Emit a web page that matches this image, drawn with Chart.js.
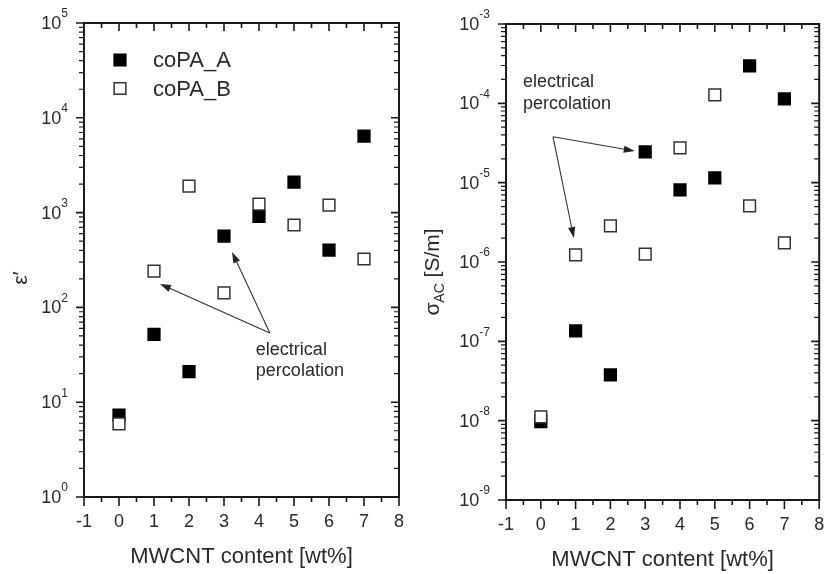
<!DOCTYPE html>
<html>
<head>
<meta charset="utf-8">
<script src="https://cdn.jsdelivr.net/npm/chart.js@4.4.0/dist/chart.umd.min.js"></script>
<style>
  body { margin: 0; background: #fff; }
  .panel { position: absolute; top: 0; height: 574px; }
  #left { left: 0; width: 415px; }
  #right { left: 415px; width: 414px; }
</style>
</head>
<body>
<div class="panel" id="left"><canvas id="permchart"></canvas></div>
<div class="panel" id="right"><canvas id="condchart"></canvas></div>
<script>
var content = [0, 1, 2, 3, 4, 5, 6, 7];
var permA = [7.3, 52, 21, 566, 915, 2100, 403, 6400];
var permB = [5.9, 242, 1900, 142, 1230, 740, 1200, 324];
var condA = [9.7e-9, 1.35e-7, 3.77e-8, 2.45e-5, 8.1e-6, 1.15e-5, 2.97e-4, 1.14e-4];
var condB = [1.12e-8, 1.23e-6, 2.85e-6, 1.26e-6, 2.75e-5, 1.28e-4, 5.1e-6, 1.74e-6];
var xTicks = [-1, 0, 1, 2, 3, 4, 5, 6, 7, 8];
var permDecades = [0, 1, 2, 3, 4, 5];
var condDecades = [-9, -8, -7, -6, -5, -4, -3];
var seriesNames = ['coPA_A', 'coPA_B'];

var ink = '#1a1a1a';
var textInk = '#2a2a2a';
var font = '"Liberation Sans", Arial, sans-serif';

function points(ys) {
    return content.map(function (x, i) { return { x: x, y: ys[i] }; });
}

function filledSet(label, ys) {
    return {
        label: label, data: points(ys), order: 2,
        pointStyle: 'rect', pointRadius: 8.3, pointBorderWidth: 1.5,
        backgroundColor: '#000', borderColor: '#000', showLine: false
    };
}

function openSet(label, ys) {
    return {
        label: label, data: points(ys), order: 1,
        pointStyle: 'rect', pointRadius: 8.3, pointBorderWidth: 1.5,
        backgroundColor: '#fff', borderColor: '#333', showLine: false
    };
}

function arrow(ctx, x1, y1, x2, y2) {
    var a = Math.atan2(y2 - y1, x2 - x1);
    var len = 11, half = 3.6;
    ctx.beginPath();
    ctx.moveTo(x1, y1);
    ctx.lineTo(x2 - Math.cos(a) * len * 0.8, y2 - Math.sin(a) * len * 0.8);
    ctx.stroke();
    ctx.beginPath();
    ctx.moveTo(x2, y2);
    ctx.lineTo(x2 - Math.cos(a) * len - Math.sin(a) * half, y2 - Math.sin(a) * len + Math.cos(a) * half);
    ctx.lineTo(x2 - Math.cos(a) * len + Math.sin(a) * half, y2 - Math.sin(a) * len - Math.cos(a) * half);
    ctx.closePath();
    ctx.fill();
}

// frame, Origin-style ticks, power-of-ten labels, titles, legend and notes
var framePlugin = {
    id: 'frame',
    afterDatasetsDraw: function (chart, args, opts) {
        var ctx = chart.ctx, a = chart.chartArea;
        var xs = chart.scales.x, ys = chart.scales.y;
        ctx.save();
        ctx.strokeStyle = ink;
        ctx.fillStyle = textInk;

        // x ticks: bottom outward, top pointing down into the plot
        ctx.lineWidth = 1.6;
        xTicks.forEach(function (v, i) {
            var px = xs.getPixelForValue(v);
            ctx.beginPath();
            ctx.moveTo(px, a.bottom); ctx.lineTo(px, a.bottom + 9);
            ctx.moveTo(px, a.top); ctx.lineTo(px, a.top + 8);
            ctx.stroke();
            if (i < xTicks.length - 1) {
                var mx = xs.getPixelForValue(v + 0.5);
                ctx.beginPath();
                ctx.moveTo(mx, a.bottom); ctx.lineTo(mx, a.bottom + 5);
                ctx.moveTo(mx, a.top); ctx.lineTo(mx, a.top + 5);
                ctx.stroke();
            }
            ctx.font = '18px ' + font;
            ctx.textAlign = 'center';
            ctx.textBaseline = 'alphabetic';
            ctx.fillText(String(v), px, a.bottom + 30);
        });

        // y ticks: left outward, right pointing left into the plot
        var dec = opts.decades;
        dec.forEach(function (d, i) {
            var py = ys.getPixelForValue(Math.pow(10, d));
            ctx.lineWidth = 1.6;
            ctx.beginPath();
            ctx.moveTo(a.left - 8, py); ctx.lineTo(a.left, py);
            ctx.moveTo(a.right - 8, py); ctx.lineTo(a.right, py);
            ctx.stroke();
            if (i < dec.length - 1) {
                ctx.lineWidth = 1.2;
                for (var k = 2; k <= 9; k++) {
                    var my = ys.getPixelForValue(k * Math.pow(10, d));
                    ctx.beginPath();
                    ctx.moveTo(a.left - 5, my); ctx.lineTo(a.left, my);
                    ctx.moveTo(a.right - 5, my); ctx.lineTo(a.right, my);
                    ctx.stroke();
                }
            }
            // "10" with raised exponent
            ctx.textAlign = 'left';
            ctx.textBaseline = 'middle';
            ctx.font = '18px ' + font;
            var w1 = ctx.measureText('10').width;
            ctx.font = '12px ' + font;
            var w2 = ctx.measureText(String(d)).width;
            var x0 = a.left - 16 - w1 - w2;
            ctx.font = '18px ' + font;
            ctx.fillText('10', x0, py + 1);
            ctx.font = '12px ' + font;
            ctx.fillText(String(d), x0 + w1, py - 9);
        });

        // frame
        ctx.lineWidth = 2;
        ctx.strokeRect(a.left, a.top, a.right - a.left, a.bottom - a.top);

        // x title
        ctx.font = '22px ' + font;
        ctx.textAlign = 'center';
        ctx.textBaseline = 'alphabetic';
        ctx.fillText('MWCNT content [wt%]', (a.left + a.right) / 2, a.bottom + 66);

        // y title, rotated
        ctx.save();
        ctx.translate(opts.titleX, opts.titleY);
        ctx.rotate(-Math.PI / 2);
        ctx.textBaseline = 'middle';
        ctx.textAlign = 'left';
        ctx.font = '21px ' + font;
        var mainW = ctx.measureText(opts.yTitle).width;
        var subW = 0, restW = 0;
        if (opts.ySub) {
            ctx.font = '14px ' + font;
            subW = ctx.measureText(opts.ySub).width;
            ctx.font = '21px ' + font;
            restW = ctx.measureText(opts.yRest).width;
        }
        var tx = -(mainW + subW + restW) / 2;
        ctx.font = '21px ' + font;
        ctx.fillText(opts.yTitle, tx, 0);
        if (opts.ySub) {
            ctx.font = '14px ' + font;
            ctx.fillText(opts.ySub, tx + mainW, 7);
            ctx.font = '21px ' + font;
            ctx.fillText(opts.yRest, tx + mainW + subW, 0);
        }
        ctx.restore();

        // legend inside the plot
        if (opts.legend) {
            chart.data.datasets.forEach(function (ds, i) {
                var cy = a.top + 37 + i * 28.5, cx = a.left + 36;
                var s = ds.pointRadius * Math.SQRT1_2;
                ctx.fillStyle = ds.backgroundColor;
                ctx.strokeStyle = ds.borderColor;
                ctx.lineWidth = ds.pointBorderWidth;
                ctx.beginPath();
                ctx.rect(cx - s, cy - s, 2 * s, 2 * s);
                ctx.fill();
                ctx.stroke();
                ctx.fillStyle = textInk;
                ctx.font = '22px ' + font;
                ctx.textAlign = 'left';
                ctx.textBaseline = 'middle';
                ctx.fillText(ds.label, a.left + 69, cy + 1);
            });
        }

        // annotation text and arrows
        var n = opts.note;
        ctx.fillStyle = textInk;
        ctx.font = '18px ' + font;
        ctx.textAlign = 'left';
        ctx.textBaseline = 'alphabetic';
        n.lines.forEach(function (t, i) {
            ctx.fillText(t, xs.getPixelForValue(n.textX), ys.getPixelForValue(n.textY[i]));
        });
        ctx.strokeStyle = '#333';
        ctx.fillStyle = '#222';
        ctx.lineWidth = 1.1;
        var tailX = xs.getPixelForValue(n.tail[0]), tailY = ys.getPixelForValue(n.tail[1]);
        n.tips.forEach(function (p) {
            arrow(ctx, tailX, tailY, xs.getPixelForValue(p[0]), ys.getPixelForValue(p[1]));
        });
        ctx.restore();
    }
};

function makeChart(id, setA, setB, yMin, yMax, pad, frameOpts) {
    var ctx = document.getElementById(id).getContext('2d');
    return new Chart(ctx, {
        type: 'scatter',
        data: { datasets: [filledSet(seriesNames[0], setA), openSet(seriesNames[1], setB)] },
        options: {
            responsive: true,
            maintainAspectRatio: false,
            animation: false,
            events: [],
            layout: { padding: pad },
            scales: {
                x: { type: 'linear', min: -1, max: 8, display: false },
                y: { type: 'logarithmic', min: yMin, max: yMax, display: false }
            },
            plugins: {
                legend: { display: false },
                tooltip: { enabled: false },
                frame: frameOpts
            }
        },
        plugins: [framePlugin]
    });
}

var permchart = makeChart('permchart', permA, permB, 1, 1e5,
    { left: 84, top: 23, right: 16, bottom: 77 },
    {
        decades: permDecades, yTitle: 'ε′', titleX: 21, titleY: 278, legend: true,
        note: {
            lines: ['electrical', 'percolation'], textX: 3.91, textY: [31.5, 18.9],
            tail: [4.31, 53.7], tips: [[1.17, 177], [3.23, 384]]
        }
    });

var condchart = makeChart('condchart', condA, condB, 1e-9, 1e-3,
    { left: 91, top: 24, right: 9, bottom: 74 },
    {
        decades: condDecades, yTitle: 'σ', ySub: 'AC', yRest: ' [S/m]', titleX: 18, titleY: 272, legend: false,
        note: {
            lines: ['electrical', 'percolation'], textX: -0.51, textY: [1.61e-4, 8.5e-5],
            tail: [0.35, 3.8e-5], tips: [[2.70, 2.5e-5], [0.95, 2.0e-6]]
        }
    });
</script>
</body>
</html>
